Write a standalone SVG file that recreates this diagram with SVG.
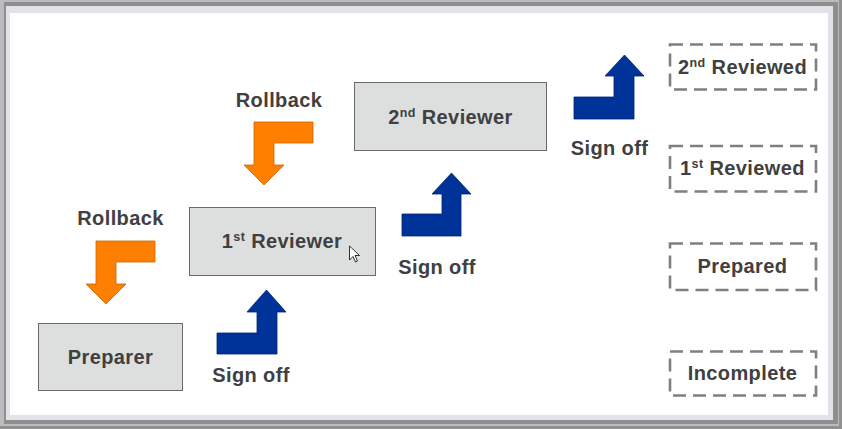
<svg xmlns="http://www.w3.org/2000/svg" width="842" height="429" viewBox="0 0 842 429">
<style>
text{font-family:"Liberation Sans",Arial,sans-serif;font-weight:bold;font-size:20px;fill:#404040;letter-spacing:0.4px;text-anchor:middle}
.sup{font-size:12.5px}
.box{fill:#dddfdf;stroke:#6a6a6a;stroke-width:1}
.status{fill:none;stroke:#7f7f7f;stroke-width:2.6;stroke-dasharray:13 7}
.orange{fill:#ff8000;stroke:#c86400;stroke-width:0.8}
.blue{fill:#003399;stroke:#00226e;stroke-width:0.8}
</style>
<g id="frame">
<rect x="0" y="0" width="842" height="429" fill="#bcbcbc"/>
<rect x="4" y="2" width="834" height="422" fill="#8e8e8e"/>
<rect x="6" y="6" width="827" height="414" fill="#e2e2e8"/>
<rect x="10" y="13" width="818" height="402" fill="#ffffff"/>
<rect x="839" y="0" width="3" height="429" fill="#909090"/>
<rect x="0" y="426" width="842" height="3" fill="#909090"/>
</g>
<g id="connectors">
<polygon class="orange" points="313,122 254,122 254,165 244,165 264,185 284,165 274,165 274,143 313,143"/>
<polygon class="orange" points="155,241 96,241 96,284 86,284 106,304 126,284 116,284 116,262 155,262"/>
<polygon class="blue" points="217,333 257,333 257,312 247,312 266.5,290 286,312 277,312 277,354 217,354"/>
<polygon class="blue" points="402,214 442,214 442,194 432,194 451.5,173 471,194 461,194 461,236 402,236"/>
<polygon class="blue" points="574,97 614,97 614,76 605,76 624.5,55 644,76 634,76 634,119 574,119"/>
<text x="279" y="107">Rollback</text>
<text x="120.5" y="225">Rollback</text>
<text x="251" y="382">Sign off</text>
<text x="437" y="274">Sign off</text>
<text x="609.5" y="155">Sign off</text>
</g>
<g id="preparer">
<rect class="box" x="38.5" y="323.5" width="144" height="67"/>
<text x="110.5" y="364">Preparer</text>
</g>
<g id="reviewer1">
<rect class="box" x="189.5" y="207.5" width="186" height="68"/>
<text x="282" y="248">1<tspan class="sup" dy="-7.5">st</tspan><tspan dy="7.5"> Reviewer</tspan></text>
</g>
<g id="reviewer2">
<rect class="box" x="354.5" y="82.5" width="192" height="68"/>
<text x="450.5" y="124">2<tspan class="sup" dy="-7.5">nd</tspan><tspan dy="7.5"> Reviewer</tspan></text>
</g>
<g id="status-2nd-reviewed">
<rect class="status" x="670" y="44.5" width="146" height="45"/>
<text x="742.5" y="74">2<tspan class="sup" dy="-7.5">nd</tspan><tspan dy="7.5"> Reviewed</tspan></text>
</g>
<g id="status-1st-reviewed">
<rect class="status" x="670" y="146" width="146" height="45.5"/>
<text x="742.5" y="175">1<tspan class="sup" dy="-7.5">st</tspan><tspan dy="7.5"> Reviewed</tspan></text>
</g>
<g id="status-prepared">
<rect class="status" x="670" y="243.5" width="146" height="46.5"/>
<text x="742.5" y="273">Prepared</text>
</g>
<g id="status-incomplete">
<rect class="status" x="670" y="351.5" width="146" height="44"/>
<text x="742.5" y="380">Incomplete</text>
</g>
<g id="cursor">
<polygon points="349.5,246 349.5,260 353,256.5 355.5,262 357.5,261 355,255.5 359.5,255.5" fill="#ffffff" stroke="#000000" stroke-width="0.8" stroke-linejoin="round"/>
</g>
</svg>
